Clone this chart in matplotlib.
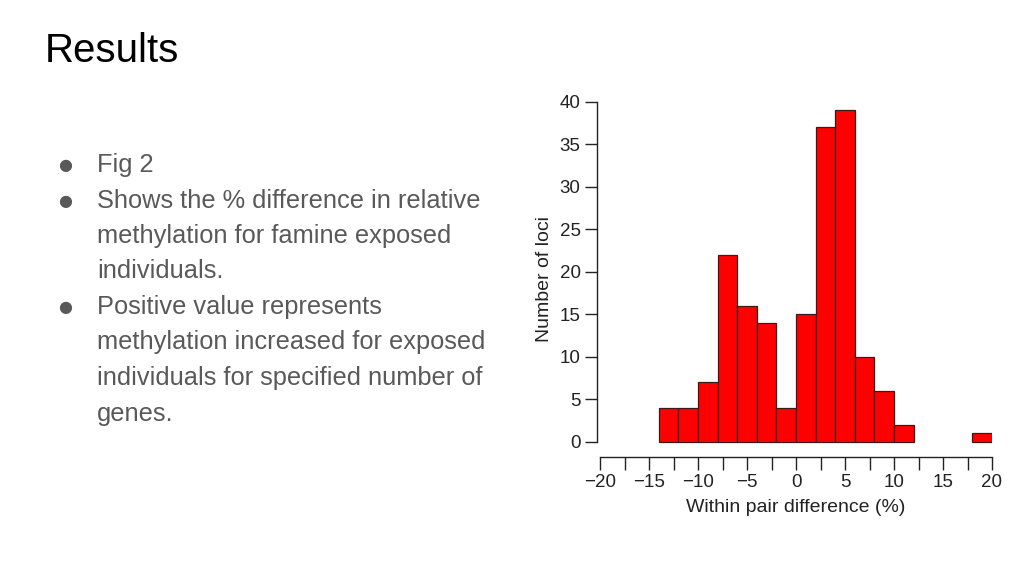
import matplotlib
matplotlib.use('Agg')
import matplotlib.pyplot as plt

plt.rcParams['font.family'] = ['Liberation Sans', 'DejaVu Sans']

# histogram bins (left edge, width 2) and counts
bin_left = [-14, -12, -10, -8, -6, -4, -2, 0, 2, 4, 6, 8, 10, 18]
counts = [4, 4, 7, 22, 16, 14, 4, 15, 37, 39, 10, 6, 2, 1]
bin_width = 2

x_major = [-20, -15, -10, -5, 0, 5, 10, 15, 20]
x_minor = [-17.5, -12.5, -7.5, -2.5, 2.5, 7.5, 12.5, 17.5]
y_ticks = [0, 5, 10, 15, 20, 25, 30, 35, 40]

title = 'Results'
bullets = [
    ('Fig 2', []),
    ('Shows the % difference in relative',
     ['methylation for famine exposed', 'individuals.']),
    ('Positive value represents',
     ['methylation increased for exposed',
      'individuals for specified number of', 'genes.']),
]

W, H = 1024, 576
fig = plt.figure(figsize=(W / 100, H / 100), dpi=100)
fig.patch.set_facecolor('white')

fig.text(45 / W, 1 - 62 / H, title, fontsize=29, color='#000000',
         ha='left', va='baseline')

# bullet list
line_h = 35.5
base = 172
for head, rest in bullets:
    fig.text(65 / W, 1 - (base - 6) / H, '\u25cf', fontsize=11.5,
             color='#595959', ha='center', va='center',
             family='DejaVu Sans')
    fig.text(97 / W, 1 - base / H, head, fontsize=18.3, color='#595959',
             ha='left', va='baseline')
    base += line_h
    for ln in rest:
        fig.text(97 / W, 1 - base / H, ln, fontsize=18.3, color='#595959',
                 ha='left', va='baseline')
        base += line_h

# chart area
x0, x1 = 600, 992
ytop, ybot = 102, 457
ax = fig.add_axes([x0 / W, 1 - ybot / H, (x1 - x0) / W, (ybot - ytop) / H])
ax.bar(bin_left, counts, width=bin_width, align='edge',
       color='#ff0000', edgecolor='#3a1a1a', linewidth=0.9)

ax.set_xlim(-20, 20)
ax.set_ylim(-1.8, 40)

for s in ['top', 'right']:
    ax.spines[s].set_visible(False)
ax.spines['left'].set_bounds(0, 40)
ax.spines['left'].set_position(('outward', 2))
ax.spines['bottom'].set_bounds(-20, 20)
for s in ['left', 'bottom']:
    ax.spines[s].set_color('#222222')
    ax.spines[s].set_linewidth(1.0)

ax.set_yticks(y_ticks)
ax.set_xticks(x_major)
ax.set_xticks(x_minor, minor=True)
ax.tick_params(axis='both', which='both', length=9, width=1.0,
               color='#222222', labelsize=13.5, labelcolor='#222222')
ax.tick_params(axis='y', pad=3)
ax.tick_params(axis='x', pad=3)

ax.set_xlabel('Within pair difference (%)', fontsize=14, color='#222222',
              labelpad=6)
ax.set_ylabel('Number of loci', fontsize=14, color='#222222', labelpad=5)

fig.savefig('out.png', dpi=100, facecolor='white')
